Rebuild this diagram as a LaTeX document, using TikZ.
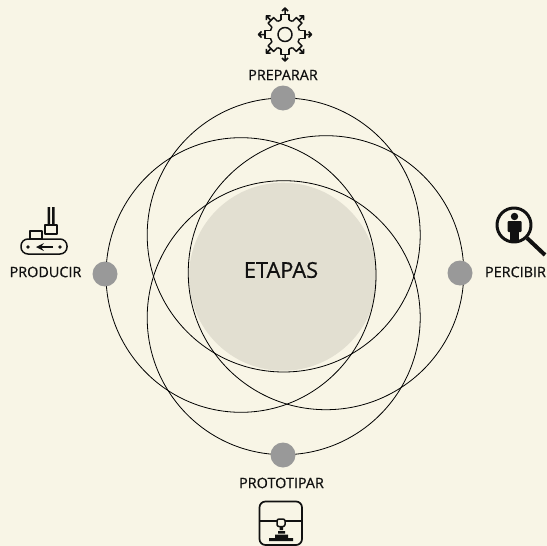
\documentclass[tikz,border=0pt]{standalone}
\usepackage{fontspec}
\usetikzlibrary{shapes.geometric}
\setmainfont{Open Sans}
\newfontfamily\labfont{Open Sans}[AutoFakeBold=0.6]
\definecolor{paper}{HTML}{F8F5E6}
\definecolor{disc}{HTML}{E2DFD1}
\definecolor{dotgray}{HTML}{999999}
\definecolor{ink}{HTML}{111111}

\begin{document}
\begin{tikzpicture}[x=1pt,y=-1pt]
\tikzstyle{ring}=[ellipse,draw=black,line width=0.8pt,minimum width=273pt,minimum height=274pt,inner sep=0pt,outer sep=0pt]
\tikzstyle{stage}=[circle,fill=dotgray,minimum size=25pt,inner sep=0pt]
\tikzstyle{lab}=[inner sep=0pt,text=ink,font=\labfont\bfseries\fontsize{14.4}{16}\selectfont]
\tikzstyle{icon}=[draw=ink,line width=1.5pt,line join=round]
\useasboundingbox (0,0) rectangle (547,546);
\fill [paper] (0,0) rectangle (547,546);
\node [circle,fill=disc,minimum size=188pt,inner sep=0pt] (core) at (283,276.7) {};
% four rings
\node [ring] (ringtop) at (283.7,235) {};
\node [ring] (ringbottom) at (283.7,317.7) {};
\node [ring,minimum width=270pt,minimum height=274.6pt] (ringleft) at (241,275) {};
\node [ring,minimum width=275.5pt] (ringright) at (326,272.7) {};
\node [stage] (preparar) at (283,98) {};
\node [stage] (producir) at (105,274) {};
\node [stage] (percibir) at (460,273) {};
\node [stage] (prototipar) at (283,455) {};
\node [lab] (lpreparar) at (283,75) {PREPARAR};
\node [lab] (lproducir) at (45.5,272) {PRODUCIR};
\node [lab] (lpercibir) at (515.5,272) {PERCIBIR};
\node [lab] (lprototipar) at (281.5,483) {PROTOTIPAR};
\node [lab,font=\labfont\bfseries\fontsize{21.8}{24}\selectfont] (letapas) at (281,270) {ETAPAS};
% gear
\begin{scope}[shift={(285,34.5)}]
\draw [icon] (0,0) circle (7);
\foreach \a in {0,45,...,315} {
\draw [icon,rotate=\a] (14.5,-4) -- (20,-4) -- (20,4) -- (14.5,4);
\draw [icon,rotate=\a] (14.5,4) arc (15.4:29.6:15);
\draw [icon,rotate=\a] (20,0) -- (26.5,0) (23.5,-3) -- (26.5,0) -- (23.5,3);
}
\end{scope}
% conveyor
\draw [icon,rounded corners=7pt] (21,239) rectangle (67,254);
\fill [ink] (28,247) circle (1.8) (60,247) circle (1.8);
\draw [ink,line width=2.4pt,-stealth] (53,247) -- (36,247);
\draw [icon] (30,231) rectangle (42,239);
\draw [icon] (45,225) rectangle (57,234);
\fill [ink] (47.5,207) rectangle (50,225) (52,207) rectangle (54.5,225);
% magnifier
\draw [icon,line width=3pt] (514,225) circle (17);
\fill [ink] (514.5,216.5) circle (3.7);
\fill [ink,rounded corners=1pt] (507.5,221) rectangle (521.5,232);
\fill [ink] (510,230) rectangle (519,241);
\draw [icon,line width=4pt] (527,238) -- (545,255);
% printer
\draw [icon,line width=1.7pt,rounded corners=6pt] (259.5,501.5) rectangle (302,545);
\draw [icon] (259.5,521) -- (302,521);
\draw [icon,fill=paper,rounded corners=2pt] (277,519) rectangle (285,526.5);
\fill [ink] (279.5,527) rectangle (283,530) (278,531) rectangle (285,533.5) (275,534.5) rectangle (288,538) (269,538) rectangle (293,541);
\end{tikzpicture}
\end{document}
